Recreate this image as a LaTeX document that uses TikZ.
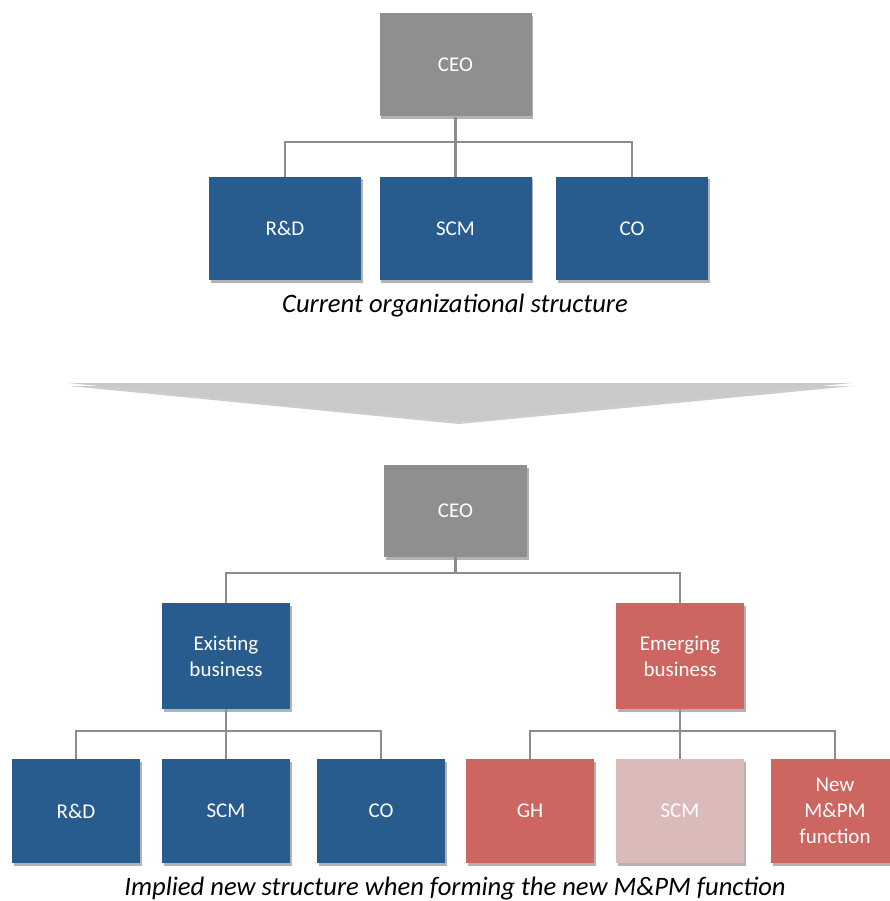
\documentclass[tikz,border=0pt]{standalone}
\usepackage{fontspec}
\setmainfont{Carlito}
\usetikzlibrary{shadows}
\definecolor{boxblue}{RGB}{40,92,143}
\definecolor{boxred}{RGB}{205,102,96}
\definecolor{boxfade}{RGB}{219,187,186}
\definecolor{boxgray}{RGB}{143,143,143}
\definecolor{conngray}{RGB}{140,140,140}
\definecolor{arrowgray}{RGB}{201,201,201}
\tikzset{
  orgbox/.style={rectangle, inner sep=0pt, text=white, align=center,
    font=\fontsize{21}{26}\selectfont,
    drop shadow={shadow xshift=1.5pt, shadow yshift=-2.5pt, opacity=0.3, fill=black}},
  bigbox/.style={orgbox, minimum width=152pt, minimum height=103pt},
  smallbox/.style={orgbox, minimum width=128pt, minimum height=104pt},
  conn/.style={draw=conngray, line width=2.8pt},
  caption/.style={font=\fontsize{26.6}{32}\selectfont\itshape, text=black, inner sep=0pt}
}
\begin{document}
\begin{tikzpicture}[x=1pt,y=-1pt]
\useasboundingbox (0,0) rectangle (890,901);
\clip (0,0) rectangle (890,901);
% ---- top structure ----
\node[bigbox, fill=boxgray] (ceo1) at (455.5,65) {CEO};
\node[bigbox, fill=boxblue] (rd1) at (285,228.5) {R\&D};
\node[bigbox, fill=boxblue] (scm1) at (455.5,228.5) {SCM};
\node[bigbox, fill=boxblue] (co1) at (632,228.5) {CO};
\coordinate (bus1) at (455.5,142);
\draw[conn] (ceo1.south) -- (scm1.north);
\draw[conn] (rd1.north) |- (bus1) -| (co1.north);
\node[caption] (cap1) at (455,306) {Current organizational structure};
% ---- chevron arrow ----
\fill[arrowgray, drop shadow={shadow xshift=1pt, shadow yshift=-3pt, opacity=0.2, fill=black}]
  (68,383) -- (852,383) -- (458,421) -- cycle;
% ---- bottom structure ----
\node[orgbox, minimum width=143pt, minimum height=92pt, fill=boxgray] (ceo2) at (455.5,511) {CEO};
\node[smallbox, minimum height=106pt, fill=boxblue] (exist) at (226,656) {Existing\\business};
\node[smallbox, minimum height=106pt, fill=boxred] (emerg) at (680,656) {Emerging\\business};
\coordinate (bus2) at (455.5,573);
\draw[conn] (ceo2.south) -- (bus2);
\draw[conn] (exist.north) |- (bus2) -| (emerg.north);
\node[smallbox, fill=boxblue] (rd2) at (76,811) {R\&D};
\node[smallbox, fill=boxblue] (scm2) at (226,811) {SCM};
\node[smallbox, fill=boxblue] (co2) at (381,811) {CO};
\node[smallbox, fill=boxred] (gh) at (530,811) {GH};
\node[smallbox, fill=boxfade, drop shadow={opacity=0}] (scm3) at (680,811) {SCM};
\node[smallbox, fill=boxred] (newf) at (835,811) {New\\M\&PM\\function};
\coordinate (bus3) at (226,731);
\coordinate (bus4) at (680,731);
\draw[conn] (exist.south) -- (scm2.north);
\draw[conn] (rd2.north) |- (bus3) -| (co2.north);
\draw[conn] (emerg.south) -- (scm3.north);
\draw[conn] (gh.north) |- (bus4) -| (newf.north);
\node[caption] (cap2) at (455,888.5) {Implied new structure when forming the new M\&PM function};
\end{tikzpicture}
\end{document}
